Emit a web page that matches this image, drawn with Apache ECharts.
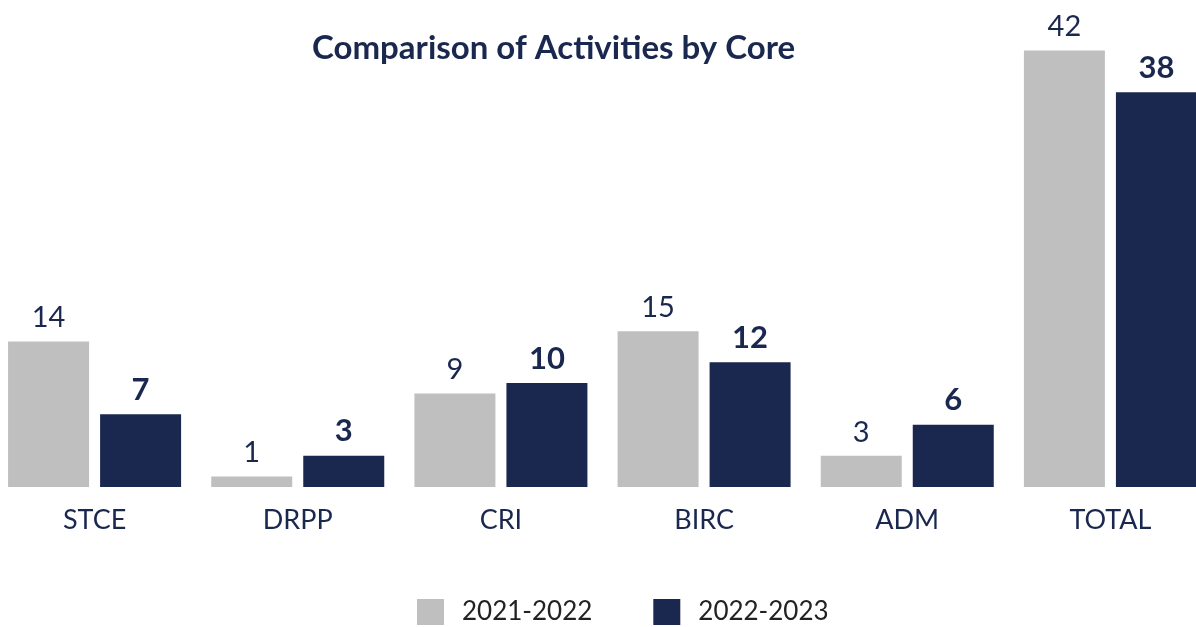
<!DOCTYPE html>
<html>
<head>
<meta charset="utf-8">
<script src="https://cdn.jsdelivr.net/npm/echarts@6/dist/echarts.min.js"></script>
<style>
  html, body { margin: 0; padding: 0; background: #ffffff; overflow: hidden; }
  /* the plot runs slightly past both page edges */
  #chart { width: 1219px; height: 627px; margin-left: -7px; }
</style>
</head>
<body>
<div id="chart"></div>
<script>
// Activities per core, two reporting years
const categories = ['STCE', 'DRPP', 'CRI', 'BIRC', 'ADM', 'TOTAL'];
const seriesNames = ['2021-2022', '2022-2023'];
const values2122 = [14, 1, 9, 15, 3, 42];
const values2223 = [7, 3, 10, 12, 6, 38];

const NAVY = '#1a284f';
const GREY = '#bfbfbf';
const FONT = 'Lato, "Noto Sans", sans-serif';

const chart = echarts.init(document.getElementById('chart'), null, { renderer: 'canvas' });

chart.setOption({
  animation: false,
  backgroundColor: '#ffffff',
  title: {
    text: 'Comparison of Activities by Core',
    left: 319,
    top: 32,
    padding: 0,
    textStyle: { fontFamily: FONT, fontSize: 33, fontWeight: 'bold', color: NAVY }
  },
  legend: {
    data: seriesNames,
    left: 424,
    bottom: 2,
    padding: 0,
    itemWidth: 27,
    itemHeight: 26,
    itemGap: 61,
    icon: 'rect',
    textStyle: { fontFamily: FONT, fontSize: 26, color: '#222222', padding: [0, 0, 0, 13] }
  },
  grid: { left: 0, right: 0, top: 9, bottom: 140, containLabel: false },
  xAxis: {
    type: 'category',
    data: categories,
    axisLine: { show: false },
    axisTick: { show: false },
    axisLabel: { fontFamily: FONT, fontSize: 27, color: NAVY, margin: 20 }
  },
  yAxis: {
    type: 'value',
    min: 0,
    max: 46,
    show: false,
    splitLine: { show: false }
  },
  series: [
    {
      name: seriesNames[0],
      type: 'bar',
      data: values2122,
      barWidth: 81,
      barGap: '13.6%',
      itemStyle: { color: GREY },
      label: {
        show: true,
        position: 'top',
        distance: 9,
        fontFamily: FONT,
        fontSize: 29,
        fontWeight: 'normal',
        color: NAVY
      }
    },
    {
      name: seriesNames[1],
      type: 'bar',
      data: values2223,
      barWidth: 81,
      itemStyle: { color: NAVY },
      label: {
        show: true,
        position: 'top',
        distance: 9,
        fontFamily: FONT,
        fontSize: 31,
        fontWeight: 'bold',
        color: NAVY
      }
    }
  ]
});
</script>
</body>
</html>
